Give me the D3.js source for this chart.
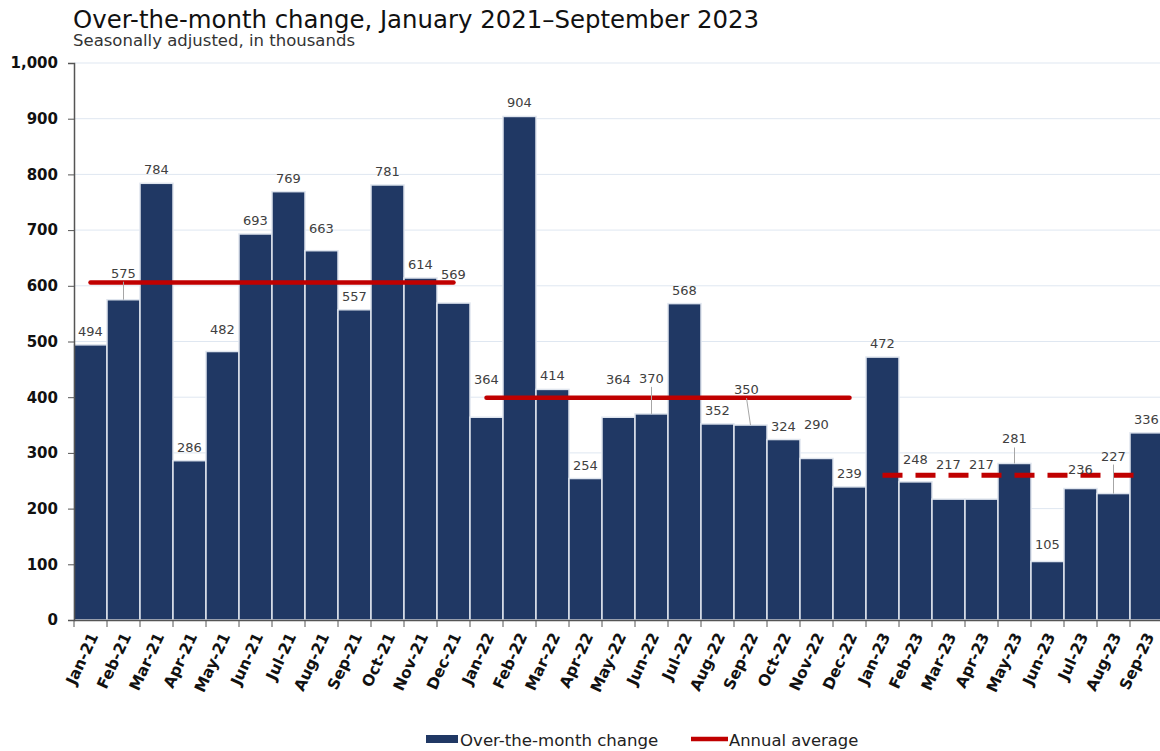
<!DOCTYPE html>
<html>
<head>
<meta charset="utf-8">
<script src="https://cdn.jsdelivr.net/npm/d3@7"></script>
<style>
  body { margin: 0; background: #fff; }
  text { font-family: "DejaVu Sans", Verdana, sans-serif; }
</style>
</head>
<body>
<svg id="chart"></svg>
<script>
// data
const months = ["Jan-21", "Feb-21", "Mar-21", "Apr-21", "May-21", "Jun-21", "Jul-21", "Aug-21", "Sep-21", "Oct-21", "Nov-21", "Dec-21",
  "Jan-22", "Feb-22", "Mar-22", "Apr-22", "May-22", "Jun-22", "Jul-22", "Aug-22", "Sep-22", "Oct-22", "Nov-22", "Dec-22",
  "Jan-23", "Feb-23", "Mar-23", "Apr-23", "May-23", "Jun-23", "Jul-23", "Aug-23", "Sep-23"];
const changes = [494, 575, 784, 286, 482, 693, 769, 663, 557, 781, 614, 569,
  364, 904, 414, 254, 364, 370, 568, 352, 350, 324, 290, 239,
  472, 248, 217, 217, 281, 105, 236, 227, 336];
const yearStart = ["Jan-21", "Jan-22", "Jan-23"];
const yearEnd = ["Dec-21", "Dec-22", "Sep-23"];
const annualAvg = [606, 399, 260];
const yTicks = [0, 100, 200, 300, 400, 500, 600, 700, 800, 900, 1000];

// label nudges [dx, dy, leader line]
const nudge = {
  "Feb-21": [0, -13, true], "May-21": [0, -9], "Aug-21": [0, -9], "Dec-21": [0, -15],
  "Jan-22": [0, -24], "May-22": [0, -24], "Jun-22": [0, -22, true], "Sep-22": [-4, -22, true],
  "Nov-22": [0, -20], "Feb-23": [0, -9], "Mar-23": [0, -21], "Apr-23": [0, -21],
  "May-23": [0, -11, true], "Jun-23": [0, -4], "Jul-23": [0, -6], "Aug-23": [0, -24, true]
};

const width = 1160, height = 751;
const svg = d3.select("#chart").attr("width", width).attr("height", height);

const x = d3.scaleBand().domain(months).range([74, 74 + 33 * months.length]).padding(0);
const y = d3.scaleLinear().domain([0, 1000]).range([620, 63]);
const bw = x.bandwidth();

// title
svg.append("text").attr("x", 73).attr("y", 28)
  .attr("font-size", 24.4).attr("fill", "#111")
  .text("Over-the-month change, January 2021\u2013September 2023");
svg.append("text").attr("x", 73).attr("y", 46)
  .attr("font-size", 16.5).attr("fill", "#333")
  .text("Seasonally adjusted, in thousands");

// gridlines
svg.append("g").selectAll("line").data(yTicks.slice(1)).join("line")
  .attr("x1", 74).attr("x2", width)
  .attr("y1", d => y(d)).attr("y2", d => y(d))
  .attr("stroke", "#dfe7f1").attr("stroke-width", 1);

// bars
svg.append("g").selectAll("rect").data(changes).join("rect")
  .attr("x", (d, i) => x(months[i]))
  .attr("y", d => y(d))
  .attr("width", bw)
  .attr("height", d => y(0) - y(d))
  .attr("fill", "#203864")
  .attr("stroke", "#dfe5ee").attr("stroke-width", 1.5);

// y axis
const yAxis = svg.append("g").attr("transform", "translate(74,0)")
  .call(d3.axisLeft(y).tickValues(yTicks).tickFormat(d3.format(",")).tickSize(6).tickPadding(10));
yAxis.select(".domain").attr("stroke", "#555").attr("stroke-width", 1.5);
yAxis.selectAll(".tick line").attr("stroke", "#555");
yAxis.selectAll("text").attr("font-size", 15).attr("font-weight", "bold").attr("fill", "#111")
  .attr("font-family", "DejaVu Sans, sans-serif");

// x axis
const xAxis = svg.append("g").attr("transform", "translate(0,620)")
  .call(d3.axisBottom(x).tickSize(0).tickFormat(""));
xAxis.select(".domain").attr("stroke", "#555").attr("stroke-width", 1.5);
svg.append("g").selectAll("line").data(months).join("line")
  .attr("x1", d => x(d)).attr("x2", d => x(d))
  .attr("y1", 620).attr("y2", 627)
  .attr("stroke", "#555");
svg.append("g").selectAll("text").data(months).join("text")
  .attr("transform", d => `translate(${x(d) + bw / 2 + 8},636) rotate(-65)`)
  .attr("text-anchor", "end")
  .attr("font-size", 15.5).attr("font-weight", "bold").attr("fill", "#111")
  .text(d => d);

// annual averages
const avgG = svg.append("g");
annualAvg.forEach((v, i) => {
  avgG.append("line")
    .attr("x1", x(yearStart[i]) + bw / 2)
    .attr("x2", x(yearEnd[i]) + bw / 2)
    .attr("y1", y(v)).attr("y2", y(v))
    .attr("stroke", "#c00000")
    .attr("stroke-width", i === 2 ? 5 : 4.5)
    .attr("stroke-linecap", i === 2 ? "butt" : "round")
    .attr("stroke-dasharray", i === 2 ? "20,13" : null);
});

// value labels
const lab = svg.append("g");
changes.forEach((v, i) => {
  const m = months[i];
  const n = nudge[m] || [0, 0];
  const cx = x(m) + bw / 2;
  const base = y(v) - 9 + n[1];
  if (n[2]) {
    lab.append("line")
      .attr("x1", cx).attr("y1", y(v))
      .attr("x2", cx + n[0]).attr("y2", base + 4)
      .attr("stroke", "#a6a6a6").attr("stroke-width", 1);
  }
  lab.append("text")
    .attr("x", cx + n[0]).attr("y", base)
    .attr("text-anchor", "middle")
    .attr("font-size", 13).attr("fill", "#404040")
    .text(v);
});

// legend
const leg = svg.append("g");
leg.append("rect").attr("x", 426).attr("y", 735).attr("width", 32).attr("height", 8).attr("fill", "#203864");
leg.append("text").attr("x", 460).attr("y", 746).attr("font-size", 16.6).attr("fill", "#222").text("Over-the-month change");
leg.append("line").attr("x1", 691).attr("x2", 728).attr("y1", 739).attr("y2", 739)
  .attr("stroke", "#c00000").attr("stroke-width", 4.5);
leg.append("text").attr("x", 729).attr("y", 746).attr("font-size", 16.4).attr("fill", "#222").text("Annual average");
</script>
</body>
</html>
